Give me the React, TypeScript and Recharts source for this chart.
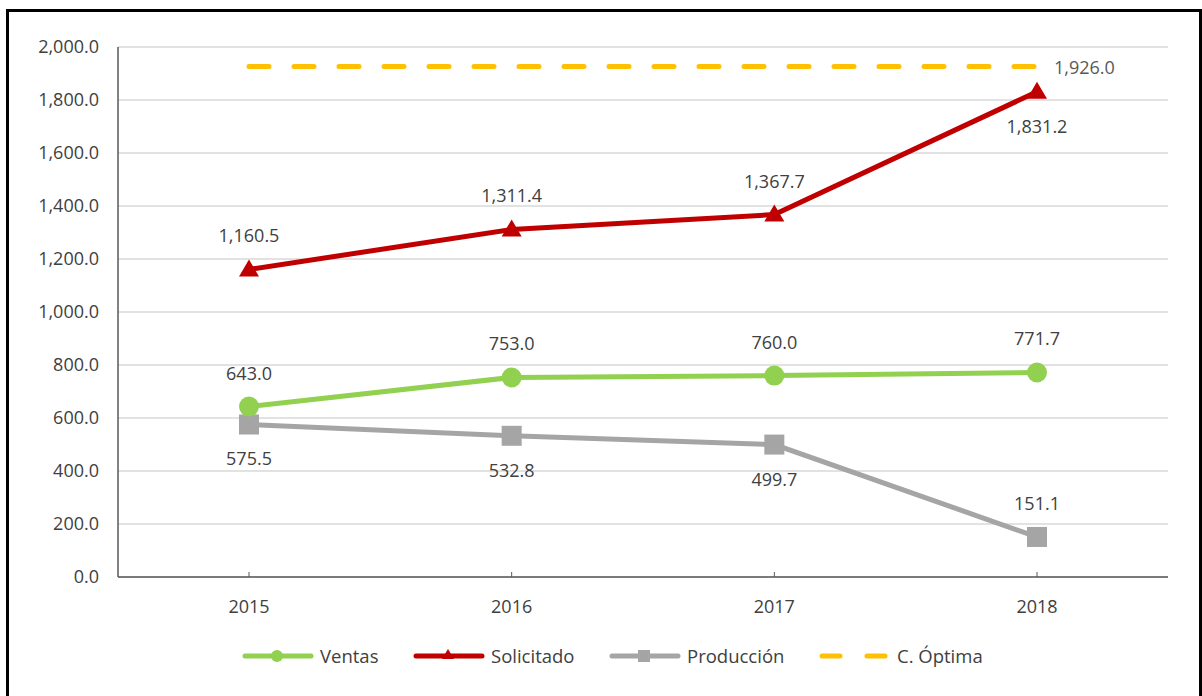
import React from 'react'
import { LineChart, Line, XAxis, YAxis, CartesianGrid } from 'recharts'

const years = ['2015', '2016', '2017', '2018']
const ventas = [643.0, 753.0, 760.0, 771.7]
const solicitado = [1160.5, 1311.4, 1367.7, 1831.2]
const produccion = [575.5, 532.8, 499.7, 151.1]
const optima = [1926.0, 1926.0, 1926.0, 1926.0]
const yTicks = [0, 200, 400, 600, 800, 1000, 1200, 1400, 1600, 1800, 2000]

// where each data label sits relative to its point
const ventasPos = ['top', 'top', 'top', 'top']
const solicitadoPos = ['top', 'top', 'top', 'bottom']
const produccionPos = ['bottom', 'bottom', 'bottom', 'top']
const optimaPos = ['none', 'none', 'none', 'right']

const data = years.map((year, i) => ({
  year,
  ventas: ventas[i],
  solicitado: solicitado[i],
  produccion: produccion[i],
  optima: optima[i],
}))

const FONT = "'Open Sans', 'Noto Sans', sans-serif"
const TEXT = '#404040'
const GREEN = '#92D050'
const RED = '#C00000'
const GRAY = '#A5A5A5'
const YELLOW = '#FFC000'
const FS = 18

const fmt = (v: number) =>
  Number(v).toLocaleString('en-US', { minimumFractionDigits: 1, maximumFractionDigits: 1 })

const makeLabel = (positions: string[], color = TEXT) => (props: any) => {
  const { x, y, value, index } = props
  const pos = positions[index]
  if (pos === 'none') return null
  let tx = x
  let ty = y
  let anchor: any = 'middle'
  if (pos === 'top') ty = y - 34
  if (pos === 'bottom') ty = y + 34
  if (pos === 'right') {
    tx = x + 17
    anchor = 'start'
  }
  return (
    <text
      x={tx}
      y={ty}
      textAnchor={anchor}
      dominantBaseline="central"
      fill={color}
      fontSize={FS}
      fontFamily={FONT}
    >
      {fmt(value)}
    </text>
  )
}

const Triangle = (props: any) => {
  const { cx, cy } = props
  if (cx == null || cy == null) return null
  return (
    <path
      d={`M${cx},${cy - 10} L${cx + 10},${cy + 7} L${cx - 10},${cy + 7} Z`}
      fill={RED}
    />
  )
}

const Square = (props: any) => {
  const { cx, cy } = props
  if (cx == null || cy == null) return null
  return <rect x={cx - 10} y={cy - 10} width={20} height={20} fill={GRAY} />
}

const XTick = (props: any) => {
  const { x, y, payload } = props
  return (
    <g>
      <line x1={x} x2={x} y1={y - 5} y2={y} stroke="#595959" strokeWidth={1} />
      <text
        x={x}
        y={y + 29}
        textAnchor="middle"
        dominantBaseline="central"
        fill={TEXT}
        fontSize={FS}
        fontFamily={FONT}
      >
        {payload.value}
      </text>
    </g>
  )
}

const legendItems = [
  { name: 'Ventas', color: GREEN, marker: 'circle', left: 242 },
  { name: 'Solicitado', color: RED, marker: 'triangle', left: 413 },
  { name: 'Producción', color: GRAY, marker: 'square', left: 609 },
  { name: 'C. Óptima', color: YELLOW, marker: 'dash', left: 819 },
]

const LegendRow = () => (
  <>
    {legendItems.map((it) => (
      <div
        key={it.name}
        style={{
          position: 'absolute',
          left: it.left,
          top: 643,
          display: 'flex',
          alignItems: 'center',
          fontFamily: FONT,
          fontSize: 18.5,
          color: TEXT,
          whiteSpace: 'nowrap',
        }}
      >
        <svg width={72} height={24} style={{ marginRight: 6 }}>
          {it.marker === 'dash' ? (
            <>
              <line x1={3} x2={21} y1={12} y2={12} stroke={it.color} strokeWidth={5} strokeLinecap="round" />
              <line x1={48} x2={66} y1={12} y2={12} stroke={it.color} strokeWidth={5} strokeLinecap="round" />
            </>
          ) : (
            <line x1={3} x2={69} y1={12} y2={12} stroke={it.color} strokeWidth={5} strokeLinecap="round" />
          )}
          {it.marker === 'circle' && <circle cx={35} cy={12} r={6} fill={it.color} />}
          {it.marker === 'triangle' && <path d="M35,5 L41,15 L29,15 Z" fill={it.color} />}
          {it.marker === 'square' && <rect x={29} y={6} width={12} height={12} fill={it.color} />}
        </svg>
        <span>{it.name}</span>
      </div>
    ))}
  </>
)

export default function App() {
  return (
    <div style={{ position: 'absolute', left: 0, top: 0, width: 1202, height: 696, background: '#fff', overflow: 'hidden' }}>
      <div
        style={{
          position: 'absolute',
          left: 6,
          top: 9,
          width: 1190,
          height: 700,
          border: '3px solid #000',
        }}
      />
      <div style={{ position: 'absolute', left: 0, top: 0 }}>
        <LineChart
          width={1202}
          height={696}
          data={data}
          margin={{ top: 47, right: 34, left: 18, bottom: 89 }}
        >
          <CartesianGrid vertical={false} stroke="#D9D9D9" strokeWidth={1.5} />
          <XAxis
            dataKey="year"
            height={30}
            padding={{ left: 131, right: 131 }}
            stroke="#595959"
            strokeWidth={1.5}
            tickLine={false}
            tickSize={0}
            tickMargin={0}
            tick={<XTick />}
          />
          <YAxis
            width={100}
            domain={[0, 2000]}
            ticks={yTicks}
            interval={0}
            stroke="#595959"
            strokeWidth={1.5}
            tickLine={false}
            tickSize={0}
            tickMargin={19}
            tickFormatter={fmt}
            tick={{ fill: TEXT, fontSize: FS, fontFamily: FONT }}
          />
          <Line
            dataKey="optima"
            name="C. Óptima"
            stroke={YELLOW}
            strokeWidth={5}
            strokeDasharray="20 25"
            strokeLinecap="round"
            dot={false}
            isAnimationActive={false}
            label={makeLabel(optimaPos, '#595959')}
          />
          <Line
            dataKey="produccion"
            name="Producción"
            stroke={GRAY}
            strokeWidth={5}
            dot={<Square />}
            isAnimationActive={false}
            label={makeLabel(produccionPos)}
          />
          <Line
            dataKey="ventas"
            name="Ventas"
            stroke={GREEN}
            strokeWidth={5}
            dot={{ r: 10, fill: GREEN, stroke: 'none' }}
            isAnimationActive={false}
            label={makeLabel(ventasPos)}
          />
          <Line
            dataKey="solicitado"
            name="Solicitado"
            stroke={RED}
            strokeWidth={5}
            dot={<Triangle />}
            isAnimationActive={false}
            label={makeLabel(solicitadoPos)}
          />
        </LineChart>
      </div>
      <LegendRow />
    </div>
  )
}
